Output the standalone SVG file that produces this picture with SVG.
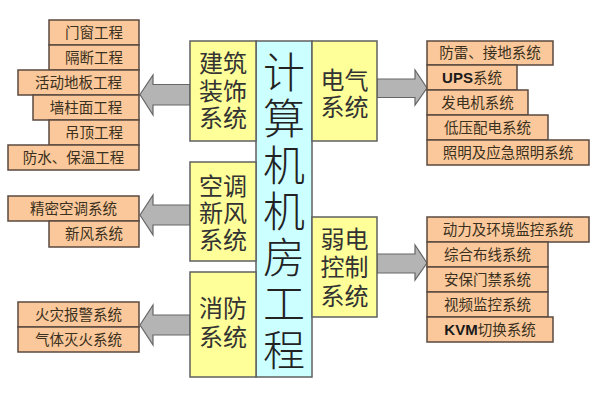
<svg xmlns="http://www.w3.org/2000/svg" width="597" height="401" viewBox="0 0 597 401">
<style>
.o{fill:#FAC89A;stroke:#5a4a40;stroke-width:1.5}
.y{fill:#FFFF99;stroke:#606060;stroke-width:1.5}
.c{fill:#CCFFFF;stroke:#606060;stroke-width:1.5}
.a{fill:#B4B4B4;stroke:#666;stroke-width:1.2}
.t{font-family:"Noto Sans CJK SC","Noto Sans",sans-serif;font-size:14.5px;fill:#3a3020;text-anchor:middle}
.b{font-family:"Liberation Sans",Arial,sans-serif;font-weight:bold;font-size:15px;fill:#1a1a1a}
.m{font-family:"Liberation Sans","Noto Sans CJK SC",sans-serif;font-size:24px;fill:#333;text-anchor:middle}
.L{font-family:"Noto Sans CJK SC",sans-serif;font-size:42px;font-weight:300;fill:#222;text-anchor:middle;writing-mode:vertical-rl;letter-spacing:4.25px}
</style>
<rect width="597" height="401" fill="#fff"/>
<g id="connectors">
<polygon class="a" points="140,94.5 153,75 153,84.5 190,84.5 190,105 153,105 153,115"/>
<polygon class="a" points="140,215 153,195 153,205 190,205 190,225 153,225 153,235"/>
<polygon class="a" points="140,325 153,305 153,315 190,315 190,335 153,335 153,345"/>
<polygon class="a" points="427,88 415,70 415,79 377,79 377,97.5 415,97.5 415,105"/>
<polygon class="a" points="427,263 415,245 415,254 377,254 377,273 415,273 415,280"/>
</g>
<g id="center">
<rect class="c" x="256" y="41" width="56" height="336"/>
<text class="L" x="284" y="213">计算机机房工程</text>
</g>
<g id="jianzhu">
<rect class="y" x="190" y="41" width="66" height="100"/>
<text class="m" x="223" y="72">建筑</text>
<text class="m" x="223" y="99.5">装饰</text>
<text class="m" x="223" y="127">系统</text>
</g>
<g id="kongtiao">
<rect class="y" x="190" y="162" width="66" height="99"/>
<text class="m" x="223" y="195">空调</text>
<text class="m" x="223" y="222">新风</text>
<text class="m" x="223" y="249">系统</text>
</g>
<g id="xiaofang">
<rect class="y" x="190" y="272" width="66" height="105"/>
<text class="m" x="223" y="317">消防</text>
<text class="m" x="223" y="346">系统</text>
</g>
<g id="dianqi">
<rect class="y" x="312" y="41" width="65" height="100"/>
<text class="m" x="344.5" y="89">电气</text>
<text class="m" x="344.5" y="116">系统</text>
</g>
<g id="ruodian">
<rect class="y" x="312" y="217" width="65" height="100"/>
<text class="m" x="344.5" y="248">弱电</text>
<text class="m" x="344.5" y="276">控制</text>
<text class="m" x="344.5" y="305">系统</text>
</g>
<g id="left-items">
<g id="n1"><rect class="o" x="49" y="20" width="90" height="25"/><text class="t" x="94" y="37.5">门窗工程</text></g>
<g id="n2"><rect class="o" x="49" y="45" width="90" height="25"/><text class="t" x="94" y="62.5">隔断工程</text></g>
<g id="n3"><rect class="o" x="18" y="70" width="121" height="25"/><text class="t" x="78.5" y="87.5">活动地板工程</text></g>
<g id="n4"><rect class="o" x="33" y="95" width="106" height="25"/><text class="t" x="86" y="112.5">墙柱面工程</text></g>
<g id="n5"><rect class="o" x="49" y="120" width="90" height="25"/><text class="t" x="94" y="137.5">吊顶工程</text></g>
<g id="n6"><rect class="o" x="8" y="145" width="131" height="25"/><text class="t" x="73.5" y="162.5">防水、保温工程</text></g>
<g id="n7"><rect class="o" x="8" y="196" width="131" height="25"/><text class="t" x="73.5" y="213.5">精密空调系统</text></g>
<g id="n8"><rect class="o" x="49" y="221" width="90" height="26"/><text class="t" x="94" y="239">新风系统</text></g>
<g id="n9"><rect class="o" x="18" y="302" width="121" height="25"/><text class="t" x="78.5" y="319.5">火灾报警系统</text></g>
<g id="n10"><rect class="o" x="18" y="327" width="121" height="25"/><text class="t" x="78.5" y="344.5">气体灭火系统</text></g>
</g>
<g id="right-items">
<g id="r1"><rect class="o" x="427" y="41" width="126" height="24"/><text class="t" x="490" y="58">防雷、接地系统</text></g>
<g id="r2"><rect class="o" x="427" y="65" width="90" height="25"/><text class="t" x="472" y="82.5"><tspan class="b">UPS</tspan>系统</text></g>
<g id="r3"><rect class="o" x="427" y="90" width="101" height="25"/><text class="t" x="477.5" y="107.5">发电机系统</text></g>
<g id="r4"><rect class="o" x="427" y="115" width="121" height="25"/><text class="t" x="487.5" y="132.5">低压配电系统</text></g>
<g id="r5"><rect class="o" x="427" y="140" width="162" height="25"/><text class="t" x="508" y="157.5">照明及应急照明系统</text></g>
<g id="r6"><rect class="o" x="427" y="217" width="162" height="25"/><text class="t" x="508" y="234.5">动力及环境监控系统</text></g>
<g id="r7"><rect class="o" x="427" y="242" width="121" height="25"/><text class="t" x="487.5" y="259.5">综合布线系统</text></g>
<g id="r8"><rect class="o" x="427" y="267" width="121" height="25"/><text class="t" x="487.5" y="284.5">安保门禁系统</text></g>
<g id="r9"><rect class="o" x="427" y="292" width="121" height="25"/><text class="t" x="487.5" y="309.5">视频监控系统</text></g>
<g id="r10"><rect class="o" x="427" y="317" width="126" height="25"/><text class="t" x="490" y="334.5"><tspan class="b">KVM</tspan>切换系统</text></g>
</g>
</svg>
